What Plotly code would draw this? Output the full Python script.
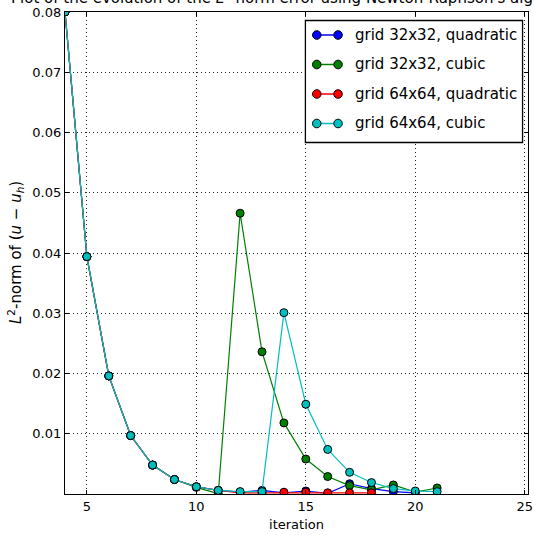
import plotly.graph_objects as go

# Newton-Raphson iterations and the L2 error of each run
iterations_32_quad = list(range(4, 21))
err_32_quad = [0.0800, 0.0394, 0.0196, 0.0097, 0.0048, 0.0024, 0.0012, 0.0006,
               0.0003, 0.0006, 0.0002, 0.0005, 0.0001, 0.0017, 0.0009, 0.0004, 0.0002]

iterations_32_cubic = list(range(4, 22))
err_32_cubic = [0.0800, 0.0394, 0.0196, 0.0097, 0.0048, 0.0024, 0.0011, 0.00005,
                0.0466, 0.0236, 0.0118, 0.0058, 0.0029, 0.0014, 0.0007, 0.0015, 0.0003, 0.0010]

iterations_64_quad = list(range(4, 19))
err_64_quad = [0.0800, 0.0394, 0.0196, 0.0097, 0.0048, 0.0024, 0.0012, 0.0006,
               0.0002, 0.0002, 0.0003, 0.0003, 0.0002, 0.0002, 0.0002]

iterations_64_cubic = list(range(4, 22))
err_64_cubic = [0.0800, 0.0394, 0.0196, 0.0097, 0.0048, 0.0024, 0.0012, 0.0006,
                0.0004, 0.0004, 0.0301, 0.0149, 0.0074, 0.0036, 0.0019, 0.0009, 0.0005, 0.0004]

series = [
    ("grid 32x32, quadratic", iterations_32_quad, err_32_quad, "#0000ff"),
    ("grid 32x32, cubic", iterations_32_cubic, err_32_cubic, "#008000"),
    ("grid 64x64, quadratic", iterations_64_quad, err_64_quad, "#ff0000"),
    ("grid 64x64, cubic", iterations_64_cubic, err_64_cubic, "#00bfbf"),
]

x_ticks = [5, 10, 15, 20, 25]
y_ticks = [0.01, 0.02, 0.03, 0.04, 0.05, 0.06, 0.07, 0.08]

W, H = 534, 535
ML, MR, MT, MB = 65, 1, 12, 41
PW, PH = W - ML - MR, H - MT - MB
FONT = "DejaVu Sans"

fig = go.Figure()
for name, xs, ys, color in series:
    fig.add_trace(go.Scatter(
        x=xs, y=ys, name=name, mode="lines+markers",
        line=dict(color=color, width=1.2),
        marker=dict(size=8, color=color, line=dict(color="#000000", width=1)),
        showlegend=False,
    ))


def px(x):
    return (x - ML) / PW


def py(y):
    return (H - MB - y) / PH


# legend drawn by hand: framed box, two-marker line glyphs, labels
shapes = [dict(type="rect", xref="paper", yref="paper",
               x0=px(308), x1=px(527.5), y0=py(142.5), y1=py(20.5),
               line=dict(color="#000000", width=1.3), fillcolor="#ffffff", layer="above")]
annotations = []
row_y = [35, 64.5, 94, 123.5]
for (name, _, _, color), ry in zip(series, row_y):
    shapes.append(dict(type="line", xref="paper", yref="paper",
                       x0=px(319.5), x1=px(341), y0=py(ry), y1=py(ry),
                       line=dict(color=color, width=1.5), layer="above"))
    for cx in (319.5, 341):
        shapes.append(dict(type="circle", xref="paper", yref="paper",
                           x0=px(cx - 4.3), x1=px(cx + 4.3), y0=py(ry + 4.3), y1=py(ry - 4.3),
                           line=dict(color="#000000", width=1), fillcolor=color, layer="above"))
    annotations.append(dict(xref="paper", yref="paper", x=px(356), y=py(ry),
                            xanchor="left", yanchor="middle", showarrow=False,
                            text=name, font=dict(family=FONT, size=15, color="#000000")))

annotations.append(dict(
    xref="paper", yref="paper", x=0.5, y=1, xanchor="center", yanchor="bottom",
    yshift=3, showarrow=False,
    text="Plot of the evolution of the <i>L</i><sup>2</sup> norm error using Newton-Raphson's algorithm",
    font=dict(family=FONT, size=15, color="#000000")))
annotations.append(dict(
    xref="paper", yref="paper", x=0, y=0.5, xanchor="center", yanchor="middle",
    xshift=-50, textangle=-90, showarrow=False,
    text="<i>L</i><sup>2</sup>-norm of (<i>u</i> \u2212 <i>u<sub>h</sub></i>)",
    font=dict(family=FONT, size=15, color="#000000")))

axis_common = dict(
    showline=True, linecolor="#000000", linewidth=1.2, mirror="ticks",
    ticks="inside", ticklen=4, tickcolor="#000000", tickwidth=1,
    showgrid=True, gridcolor="#222222", gridwidth=1, griddash="1px,3px",
    zeroline=False, ticklabeloverflow="allow",
    tickfont=dict(family=FONT, size=13, color="#000000"),
)

fig.update_layout(
    width=W, height=H, margin=dict(l=ML, r=MR, t=MT, b=MB),
    paper_bgcolor="#ffffff", plot_bgcolor="#ffffff",
    xaxis=dict(range=[4, 25.15], tickvals=x_ticks, ticktext=[str(v) for v in x_ticks],
               title=dict(text="iteration", font=dict(family=FONT, size=13, color="#000000"),
                          standoff=7),
               **axis_common),
    yaxis=dict(range=[0, 0.08], tickvals=y_ticks, tickformat=".2f", **axis_common),
    shapes=shapes, annotations=annotations,
)

fig.write_html("out.html")
